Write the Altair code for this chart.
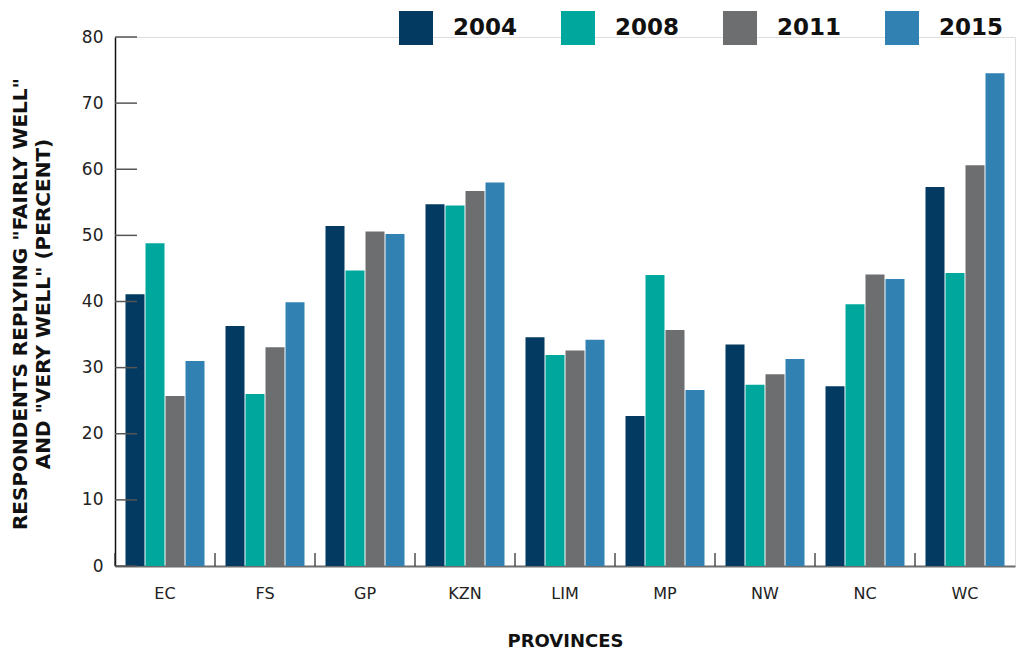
import altair as alt
import pandas as pd

provinces = ["EC", "FS", "GP", "KZN", "LIM", "MP", "NW", "NC", "WC"]
years = ["2004", "2008", "2011", "2015"]
v2004 = [41.1, 36.3, 51.4, 54.7, 34.6, 22.7, 33.5, 27.2, 57.3]
v2008 = [48.8, 26.0, 44.7, 54.5, 31.9, 44.0, 27.4, 39.6, 44.3]
v2011 = [25.7, 33.1, 50.6, 56.7, 32.6, 35.7, 29.0, 44.1, 60.6]
v2015 = [31.0, 39.9, 50.2, 58.0, 34.2, 26.6, 31.3, 43.4, 74.5]
colors = ["#023a61", "#00a79d", "#6d6e70", "#3182b3"]
yticks = [0, 10, 20, 30, 40, 50, 60, 70, 80]

rows = []
for y, vals in zip(years, [v2004, v2008, v2011, v2015]):
    for p, v in zip(provinces, vals):
        rows.append({"prov": p, "year": y, "value": v})
df = pd.DataFrame(rows)
prov_df = pd.DataFrame({"prov": provinces})
tick_df = pd.DataFrame({"v": yticks})

W, H = 900, 529
FONT = "DejaVu Sans"

xscale = alt.Scale(domain=provinces, paddingInner=0, paddingOuter=0)
yscale = alt.Scale(domain=[0, 80], nice=False, zero=True)

bars = alt.Chart(df).mark_bar().encode(
    x=alt.X("prov:N", scale=xscale, sort=provinces,
            axis=alt.Axis(title="PROVINCES", labelAngle=0, ticks=False, tickSize=0,
                          labelPadding=19, labelFontSize=16, labelColor="#222222",
                          labelFont=FONT, domainColor="#6d6d6d", domainWidth=2,
                          titleFont=FONT, titleFontSize=18, titleFontWeight="bold",
                          titleColor="#111111", titleY=75, titleBaseline="middle")),
    xOffset=alt.XOffset("year:N", sort=years,
                        scale=alt.Scale(paddingInner=0.05, paddingOuter=0.525)),
    y=alt.Y("value:Q", scale=yscale,
            axis=alt.Axis(values=yticks, ticks=False, tickSize=0, labelPadding=12,
                          labelFontSize=17, labelColor="#222222", labelFont=FONT,
                          domainColor="#111111", domainWidth=1.5, grid=False,
                          title=['RESPONDENTS REPLYING "FAIRLY WELL"',
                                 'AND "VERY WELL" (PERCENT)'],
                          titleFont=FONT, titleFontSize=20, titleFontWeight="bold",
                          titleColor="#111111", titleLineHeight=23.5,
                          titleX=-95, titleY=H / 2 + 2, titleBaseline="middle",
                          titleAngle=-90)),
    color=alt.Color("year:N", sort=years,
                    scale=alt.Scale(domain=years, range=colors),
                    legend=alt.Legend(title=None, orient="none", legendX=284, legendY=-26,
                                      direction="horizontal", columns=4,
                                      symbolType="square", symbolSize=1156,
                                      symbolStrokeWidth=0, symbolOpacity=1,
                                      labelFont=FONT, labelFontSize=23,
                                      labelFontWeight="bold", labelColor="#111111",
                                      labelOffset=20, columnPadding=43, padding=0)),
)

xticks = alt.Chart(prov_df).mark_rule(color="#222222", strokeWidth=1.2).encode(
    x=alt.X("prov:N", scale=xscale, sort=provinces, bandPosition=0),
    y=alt.value(H),
    y2=alt.value(H - 13),
)

yt = alt.Chart(tick_df).mark_rule(color="#555555", strokeWidth=1.5).encode(
    y=alt.Y("v:Q", scale=yscale),
    x=alt.value(0),
    x2=alt.value(22),
)

chart = alt.layer(bars, xticks, yt).properties(
    width=W, height=H,
    autosize=alt.AutoSizeParams(type="none"),
    padding={"left": 115, "top": 37, "right": 1, "bottom": 88},
).configure_view(stroke=None).configure(background="white")

chart.save("out.html", embed_options={"renderer": "svg", "actions": False})
